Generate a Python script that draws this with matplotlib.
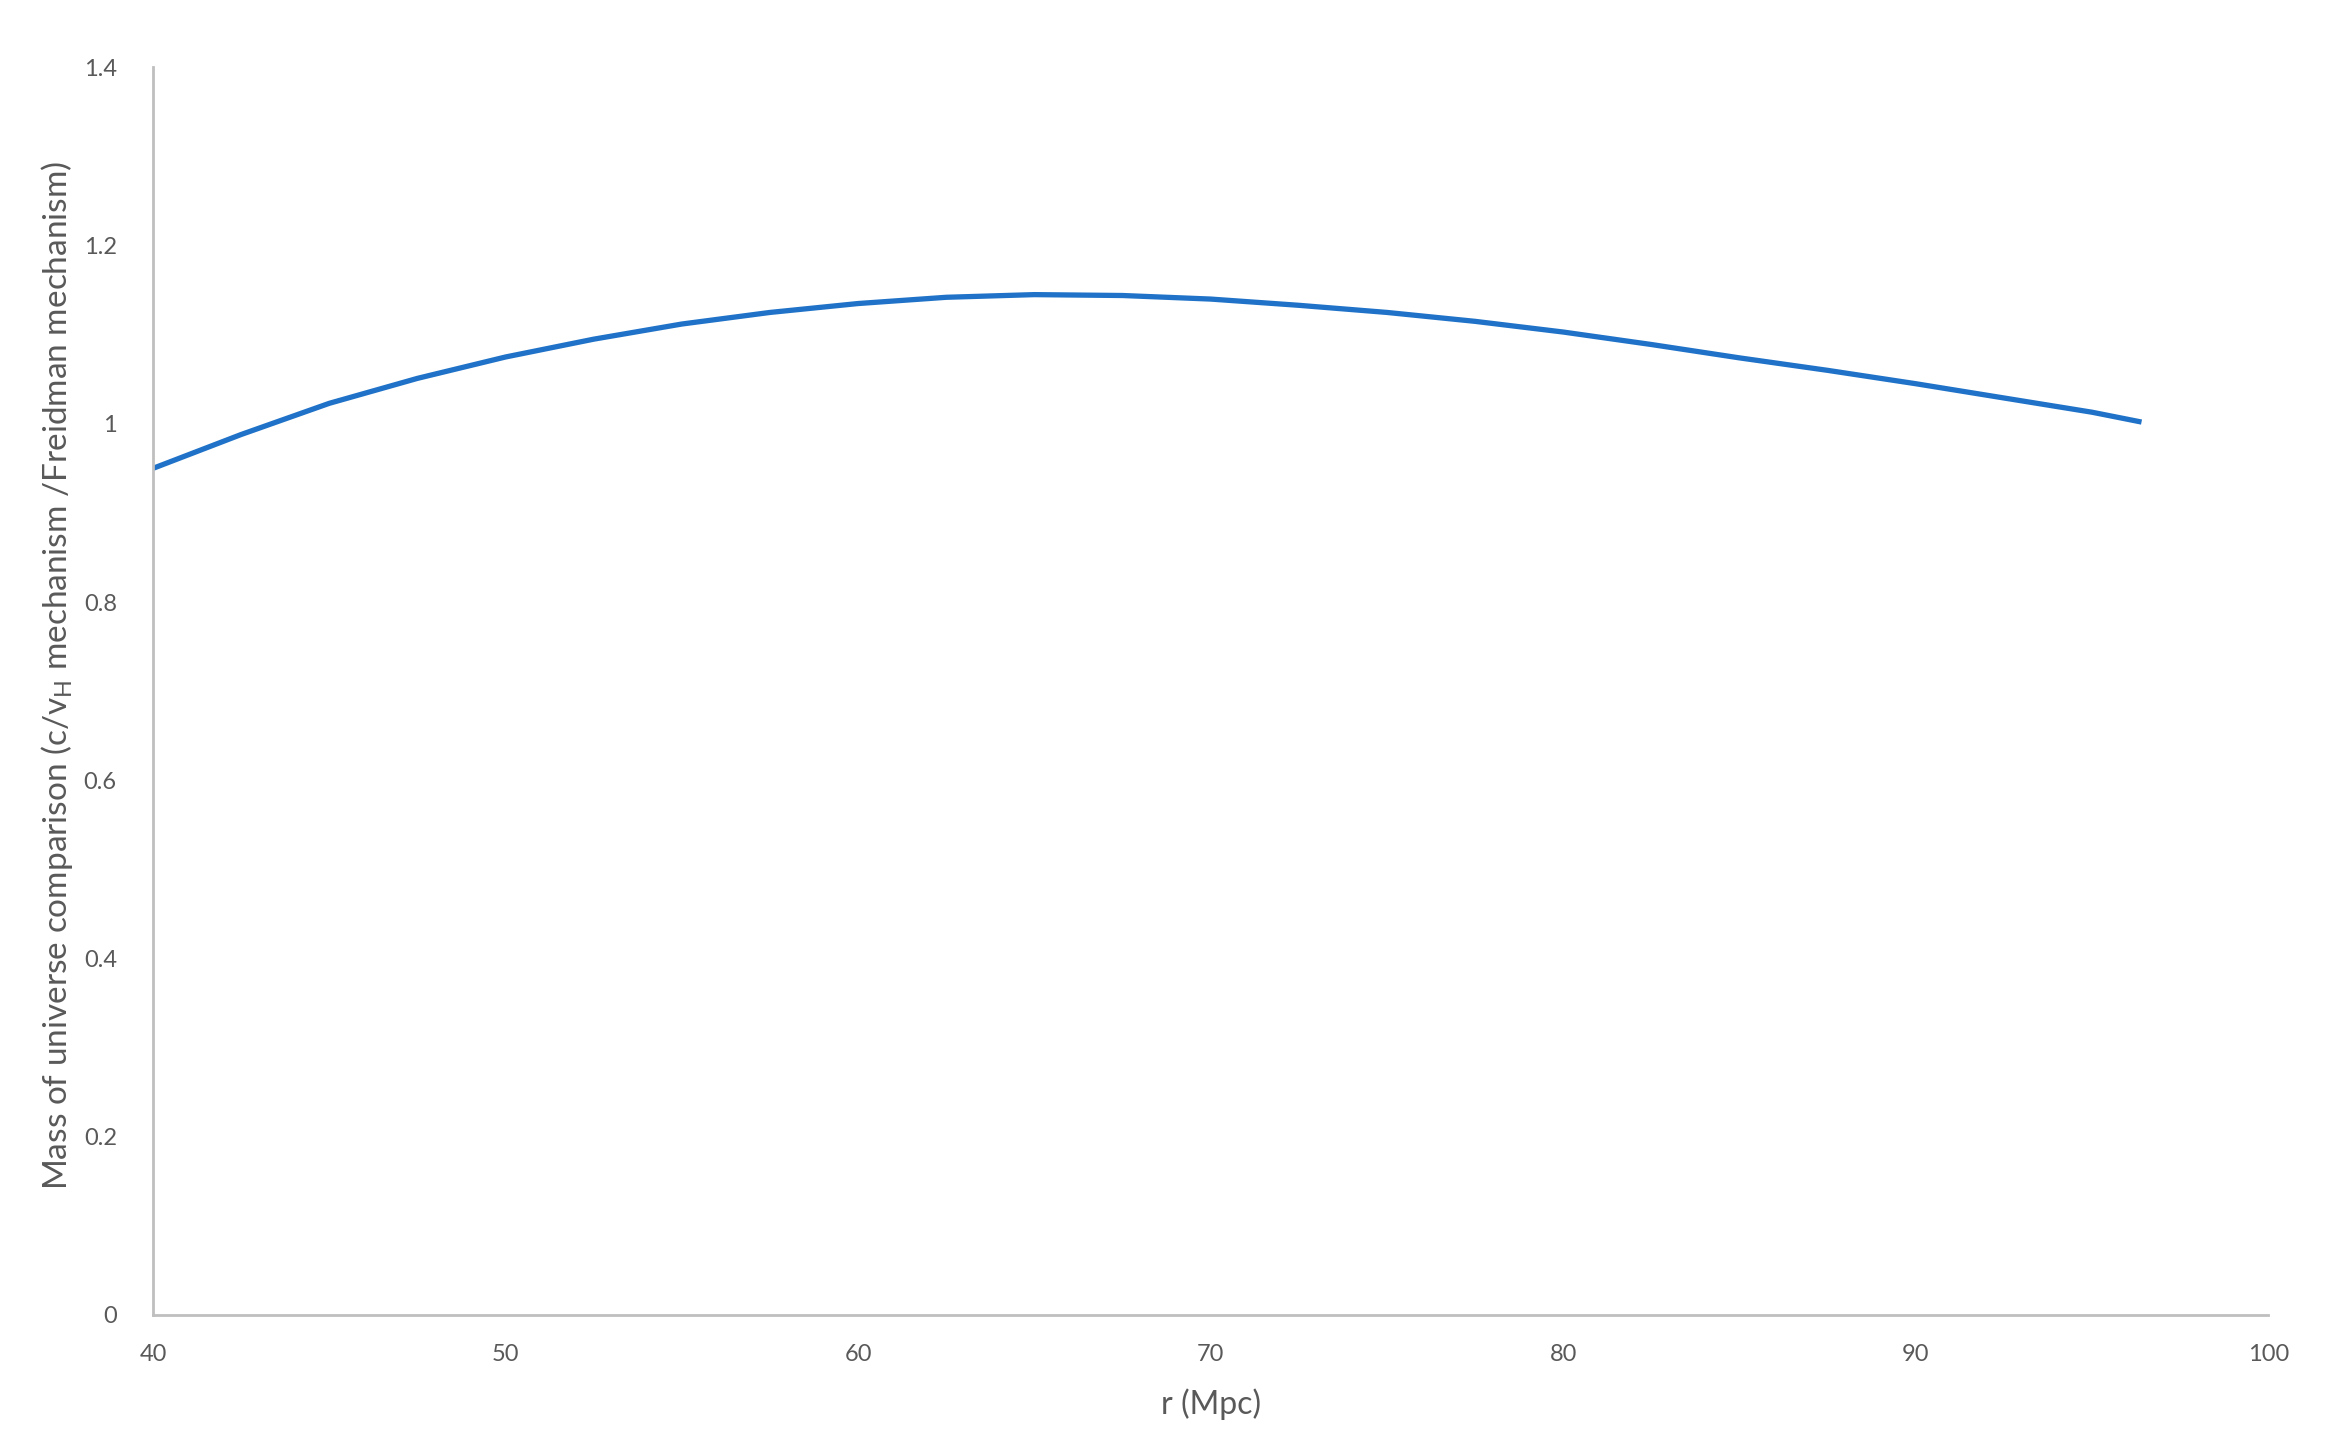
import matplotlib
matplotlib.use('Agg')
import matplotlib.pyplot as plt

# values
r_mpc = [40, 42.5, 45, 47.5, 50, 52.5, 55, 57.5, 60, 62.5, 65, 67.5,
         70, 72.5, 75, 77.5, 80, 82.5, 85, 87.5, 90, 92.5, 95, 96.4]
mass_ratio = [0.950, 0.988, 1.023, 1.051, 1.075, 1.095, 1.112, 1.125,
              1.135, 1.142, 1.145, 1.144, 1.140, 1.133, 1.125, 1.115,
              1.103, 1.089, 1.074, 1.060, 1.045, 1.029, 1.013, 1.002]

x_ticks = [40, 50, 60, 70, 80, 90, 100]
y_ticks = [0, 0.2, 0.4, 0.6, 0.8, 1, 1.2, 1.4]

plt.rcParams['font.family'] = ['Lato', 'DejaVu Sans']
plt.rcParams['mathtext.fontset'] = 'custom'
plt.rcParams['mathtext.rm'] = 'Lato'
plt.rcParams['mathtext.it'] = 'Lato'

fig = plt.figure(figsize=(23.35, 14.49), dpi=100)
ax = fig.add_axes([0.0655, 0.0925, 0.906, 0.861])

ax.plot(r_mpc, mass_ratio, color='#1f72c8', linewidth=3.8, solid_capstyle='butt')

ax.set_xlim(40, 100)
ax.set_ylim(0, 1.4)
ax.set_xticks(x_ticks)
ax.set_xticklabels([str(t) for t in x_ticks])
ax.set_yticks(y_ticks)
ax.set_yticklabels(['0', '0.2', '0.4', '0.6', '0.8', '1', '1.2', '1.4'])

for s in ['top', 'right']:
    ax.spines[s].set_visible(False)
for s in ['left', 'bottom']:
    ax.spines[s].set_color('#bfbfbf')
    ax.spines[s].set_linewidth(2)

ax.tick_params(axis='both', length=0, labelsize=17, colors='#595959')
ax.tick_params(axis='x', pad=21)
ax.tick_params(axis='y', pad=26)

ax.set_xlabel('r (Mpc)', fontsize=23, color='#595959', labelpad=17)
ax.set_ylabel('Mass of universe comparison (c/v$_\\mathrm{H}$ mechanism /Freidman mechanism)',
              fontsize=24, color='#595959', va='center')
ax.yaxis.set_label_coords(-0.0455, 0.513)

fig.savefig('out.png', dpi=100, facecolor='white')
